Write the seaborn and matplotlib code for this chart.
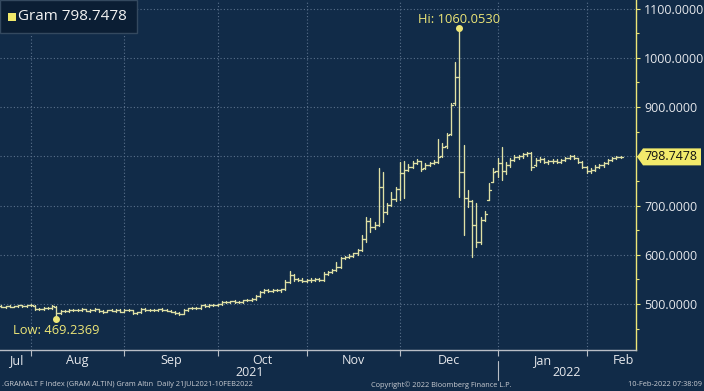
import numpy as np
import pandas as pd
import matplotlib
matplotlib.use("Agg")
import matplotlib.pyplot as plt
import matplotlib.transforms as mtransforms
from matplotlib.patches import Rectangle, Polygon
from matplotlib.ticker import FixedLocator, NullFormatter
import seaborn as sns

# ---------------- data (GRAMALT daily OHLC, 21 Jul 2021 - 10 Feb 2022) ----------------
start_date = "2021-07-21"
end_date = "2022-02-10"

open_px = [
    495, 494, 495, 494, 495, 497, 495, 497,
    496, 490, 489, 491, 492, 494, 482, 485, 486, 487, 488, 487, 489, 486, 488, 489, 485, 484, 487, 486, 488, 484,
    488, 487, 482, 483, 489, 487, 488, 487, 489, 488, 486, 484, 481, 480, 488, 491, 492, 491, 497, 496, 498, 497,
    499, 505, 504, 506, 505, 504, 508, 509, 510, 517, 524, 528, 527, 529, 528, 530, 545, 558, 550, 549, 547,
    549, 548, 551, 548, 561, 564, 569, 576, 594, 596, 598, 603, 610, 632, 668, 656, 660, 737, 686, 702, 714, 734,
    766, 772, 778, 786, 790, 776, 782, 786, 788, 800, 820, 845, 908, 960, 768, 715, 710, 660, 625, 671, 712, 748, 770,
    786, 770, 782, 792, 798, 800, 804, 806, 782, 792, 795, 789, 790, 791, 788, 792, 797, 801, 796, 788, 779,
    770, 773, 779, 782, 786, 793, 796, 798,
]
high_px = [
    497, 496, 497, 496, 498, 498, 498, 499,
    497, 492, 493, 494, 498, 496, 487, 488, 489, 490, 490, 491, 490, 489, 491, 490, 487, 488, 489, 489, 490, 489,
    490, 488, 484, 492, 491, 490, 490, 490, 491, 490, 488, 486, 484, 489, 492, 493, 494, 498, 499, 499, 500, 500,
    507, 507, 507, 508, 507, 509, 511, 512, 519, 527, 530, 531, 530, 531, 531, 548, 566, 561, 553, 552, 551,
    552, 553, 553, 564, 566, 571, 585, 596, 598, 601, 604, 612, 640, 676, 674, 666, 776, 768, 706, 728, 738, 788,
    790, 784, 790, 794, 791, 786, 789, 792, 836, 826, 848, 908, 992, 1060.0530, 822, 731, 711, 705, 677, 688, 745, 776, 796,
    818, 788, 797, 802, 803, 806, 809, 809, 796, 799, 797, 793, 794, 795, 794, 799, 803, 803, 797, 790, 781,
    776, 782, 785, 788, 795, 799, 800, 800.5,
]
low_px = [
    493, 492, 493, 493, 494, 494, 494, 495,
    488, 487, 488, 489, 490, 469.2369, 480, 483, 484, 485, 485, 486, 485, 484, 486, 484, 482, 483, 485, 484, 483, 483,
    485, 480, 479, 482, 486, 485, 485, 486, 486, 485, 483, 479, 478, 479, 486, 489, 489, 490, 494, 494, 495, 495,
    498, 502, 502, 503, 502, 503, 506, 507, 509, 515, 522, 525, 524, 526, 525, 529, 543, 547, 546, 545, 545,
    545, 546, 546, 547, 558, 562, 567, 574, 591, 593, 596, 600, 608, 626, 646, 652, 658, 666, 682, 700, 710, 712,
    716, 770, 776, 784, 770, 774, 780, 784, 786, 798, 817, 843, 905, 717, 640, 697, 595, 616, 622, 668, 711, 748, 758,
    751, 764, 778, 790, 794, 796, 801, 772, 780, 789, 786, 785, 786, 786, 786, 790, 794, 794, 786, 777, 767,
    766, 771, 776, 779, 784, 790, 794, 796,
]
close_px = [
    494, 495, 494, 495, 497, 495, 497, 497,
    490, 489, 491, 492, 496, 482, 485, 486, 487, 488, 487, 489, 486, 488, 489, 485, 484, 487, 486, 488, 484, 488,
    487, 482, 483, 489, 487, 488, 487, 489, 488, 486, 484, 481, 480, 488, 491, 492, 491, 497, 496, 498, 497, 499,
    505, 504, 506, 505, 504, 508, 509, 510, 517, 524, 528, 527, 529, 528, 530, 545, 558, 550, 549, 547, 549,
    548, 551, 548, 561, 564, 569, 576, 594, 596, 598, 603, 610, 632, 668, 656, 660, 737, 686, 702, 714, 734, 766,
    772, 778, 786, 790, 774, 782, 786, 788, 798, 819, 843, 904, 960, 768, 715, 710, 660, 625, 671, 682, 731, 768, 786,
    770, 782, 792, 798, 800, 804, 806, 779, 792, 795, 789, 790, 791, 788, 792, 797, 801, 796, 788, 779, 770,
    773, 779, 782, 786, 793, 796, 798, 798.7478,
]

month_labels = ["Jul", "Aug", "Sep", "Oct", "Nov", "Dec", "Jan", "Feb"]
year_labels = ["2021", "2022"]
y_ticks = [500, 600, 700, 800, 900, 1000, 1100]
series_name = "Gram"
footer_left = ".GRAMALT F Index (GRAM ALTIN) Gram Altın  Daily 21JUL2021-10FEB2022"
footer_mid = "Copyright\u00a9 2022 Bloomberg Finance L.P."
footer_right = "10-Feb-2022 07:38:09"

# ---------------- styling ----------------
BG = "#112b48"
BAR = "#dfe0a5"
YEL = "#ede677"
GRID = "#5a718c"
TXT = "#e6e8ec"
AXC = "#b9bec6"

sns.set_style("dark", rc={"axes.facecolor": BG, "figure.facecolor": BG})
plt.rcParams["font.family"] = ["Open Sans", "DejaVu Sans"]

W, H = 704, 391
fig = plt.figure(figsize=(W / 100, H / 100), dpi=100)
fig.patch.set_facecolor(BG)
ax_bottom_px = 349.5
ax_right_px = 636
ax = fig.add_axes([0, (H - ax_bottom_px) / H, ax_right_px / W, ax_bottom_px / H])
ax.set_facecolor(BG)

dates = pd.bdate_range(start_date, end_date)
n = len(close_px)
idx = np.arange(n)

# long-form OHLC segments
rows = []
for i in range(n):
    rows.append((i, low_px[i], 3 * i))
    rows.append((i, high_px[i], 3 * i))
    rows.append((i - 0.5, open_px[i], 3 * i + 1))
    rows.append((i, open_px[i], 3 * i + 1))
    rows.append((i, close_px[i], 3 * i + 2))
    rows.append((i + 0.5, close_px[i], 3 * i + 2))
df = pd.DataFrame(rows, columns=["x", "y", "seg"])
sns.lineplot(data=df, x="x", y="y", units="seg", estimator=None, sort=False,
             color=BAR, lw=0.95, ax=ax, legend=False)

x_left, x_right = -0.3, 149.65
ax.set_xlim(x_left, x_right)
ax.set_ylim(407.6, 1117.3)
ax.set_xlabel("")
ax.set_ylabel("")

# month boundaries (last trading day of each month) and label centres
months = dates.to_period("M")
uniq = months.unique()
bounds = [int(np.where(months == m)[0][-1]) for m in uniq[:-1]]
edges = [0] + bounds + [155.5]
centers = [(edges[k] + edges[k + 1]) / 2 for k in range(len(edges) - 1)]

ax.xaxis.set_major_locator(FixedLocator(bounds))
ax.xaxis.set_major_formatter(NullFormatter())
ax.xaxis.set_minor_locator(FixedLocator(centers))
ax.set_xticklabels(month_labels, minor=True)
ax.tick_params(axis="x", which="major", direction="out", length=4, width=0.8, color=AXC, bottom=True)
ax.tick_params(axis="x", which="minor", length=0, pad=3, labelsize=9, labelcolor=TXT, bottom=True)

# y axis on right
ax.yaxis.tick_right()
ax.yaxis.set_major_locator(FixedLocator(y_ticks))
ax.set_yticklabels(["" if abs(v - 800) < 1 else f"{v:.4f}" for v in y_ticks])
ax.yaxis.set_minor_locator(FixedLocator([v + 50 for v in y_ticks[:-1]] + [450]))
ax.tick_params(axis="y", which="major", direction="out", length=3, width=0.8, color=YEL,
               pad=3, labelsize=8.9, labelcolor=TXT, right=True, left=False)
ax.tick_params(axis="y", which="minor", direction="out", length=2, width=0.8, color=YEL, right=True, left=False)

ax.grid(True, which="major", axis="both", color=GRID, linestyle=(0, (1, 2)), lw=0.8)
for s in ["top", "left"]:
    ax.spines[s].set_visible(False)
ax.spines["right"].set_visible(True)
ax.spines["right"].set_color(YEL)
ax.spines["right"].set_linewidth(1.0)
ax.spines["bottom"].set_visible(True)
ax.spines["bottom"].set_color(AXC)
ax.spines["bottom"].set_linewidth(1.0)

# year labels and separator
bt = mtransforms.blended_transform_factory(ax.transData, ax.transAxes)
def ax_y(px):
    return (ax_bottom_px - px) / ax_bottom_px
jan_b = bounds[5]
ax.plot([jan_b, jan_b], [ax_y(361), ax_y(380)], transform=bt, clip_on=False, color=AXC, lw=0.8)
ax.text((0 + jan_b) / 2, ax_y(372), year_labels[0], transform=bt, ha="center", va="center",
        fontsize=9, color=TXT)
ax.text((jan_b + x_right) / 2, ax_y(372), year_labels[1], transform=bt, ha="center", va="center",
        fontsize=9, color=TXT)

# Hi / Low annotations
imax = int(np.argmax(high_px))
imin = int(np.argmin(low_px))
ax.plot([imax], [high_px[imax]], "o", ms=4, color=YEL, zorder=5)
ax.annotate(f"Hi: {high_px[imax]:.4f}", (imax, high_px[imax]), xytext=(0, 6), textcoords="offset points",
            ha="center", va="center", fontsize=9.3, color=YEL)
ax.plot([imin], [low_px[imin]], "o", ms=4, color=YEL, zorder=5)
ax.annotate(f"Low: {low_px[imin]:.4f}", (imin, low_px[imin]), xytext=(0, -8), textcoords="offset points",
            ha="center", va="center", fontsize=9.3, color=YEL)

# last-price tag
last = close_px[-1]
tt = mtransforms.blended_transform_factory(ax.transAxes, ax.transData)
hh = 8.5 / 0.4925
px2ax = lambda px: px / ax_right_px
tag = Polygon([(px2ax(637), last), (px2ax(643), last + hh), (px2ax(701), last + hh),
               (px2ax(701), last - hh), (px2ax(643), last - hh)], closed=True,
              transform=tt, clip_on=False, facecolor="#f2ea6b", edgecolor="none", zorder=6)
ax.add_patch(tag)
ax.text(px2ax(671), last, f"{last:.4f}", transform=tt, ha="center", va="center",
        fontsize=8.9, color="#111111", zorder=7, clip_on=False)

# legend box
fig.add_artist(Rectangle((0, (H - 33) / H), 137 / W, 33 / H, transform=fig.transFigure,
                         facecolor="#0b1e34", edgecolor="#34495f", lw=1.0, zorder=10))
fig.add_artist(Rectangle((8 / W, (H - 21) / H), 8 / W, 8 / H, transform=fig.transFigure,
                         facecolor="#f0e86a", edgecolor="none", zorder=11))
fig.text(18 / W, (H - 17) / H, f"{series_name} {last:.4f}", ha="left", va="center",
         fontsize=11, color="#f2f2f2", zorder=12)

# footer
fig.text(2 / W, (H - 385) / H, footer_left, ha="left", va="center", fontsize=5.3, color="#c9ccd2")
fig.text(441 / W, (H - 385) / H, footer_mid, ha="center", va="center", fontsize=5.3, color="#c9ccd2")
fig.text(702 / W, (H - 385) / H, footer_right, ha="right", va="center", fontsize=5.3, color="#c9ccd2")

fig.savefig("out.png", dpi=100, facecolor=BG)
